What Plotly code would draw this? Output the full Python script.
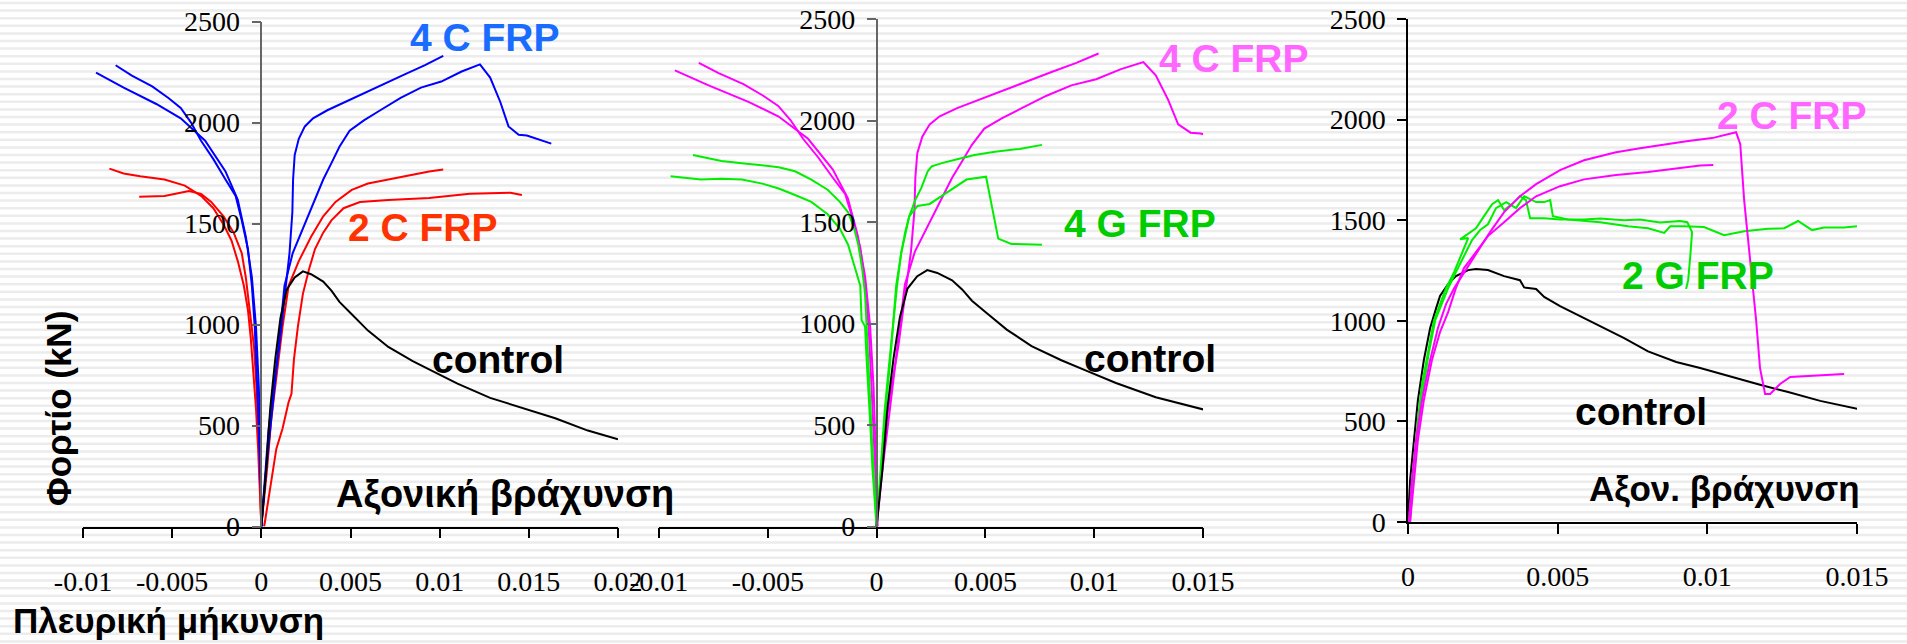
import plotly.graph_objects as go

# ---------------- data ----------------
# 4 layers carbon FRP (panel 1 blue, panel 2 magenta)
c4_lat1_x = [-0.00927, -0.00772, -0.00589, -0.00452, -0.00315, -0.00201, -0.00132, -0.00087, -0.00053, -0.0003, -0.00014, -0.00005, 0]
c4_lat1_y = [2247, 2173, 2092, 2021, 1910, 1758, 1617, 1435, 1233, 990, 687, 384, 0]
c4_lat2_x = [-0.00817, -0.00726, -0.00612, -0.00521, -0.00452, -0.00395, -0.00338, -0.00269, -0.00201, -0.00144, -0.0011, -0.00075, -0.00053, -0.00037, -0.00023, -0.00011, 0.00005]
c4_lat2_y = [2284, 2233, 2179, 2122, 2072, 2001, 1910, 1819, 1718, 1637, 1516, 1374, 1192, 990, 687, 384, 0]
c4_ax1_x = [0, 0.00023, 0.00041, 0.00068, 0.001, 0.0013, 0.00158, 0.00174, 0.00178, 0.00187, 0.0021, 0.00244, 0.0029, 0.0037, 0.00507, 0.00644, 0.00804, 0.00918, 0.0102]
c4_ax1_y = [0, 283, 485, 687, 889, 1132, 1354, 1556, 1718, 1839, 1920, 1981, 2021, 2061, 2118, 2173, 2239, 2284, 2330]
c4_ax2_x = [0, 0.00027, 0.00062, 0.00096, 0.0013, 0.00176, 0.00233, 0.00279, 0.00347, 0.00393, 0.00438, 0.00495, 0.00575, 0.00667, 0.00781, 0.00895, 0.01009, 0.01123, 0.01226, 0.01283, 0.0134, 0.01386, 0.01443, 0.01489, 0.01626]
c4_ax2_y = [0, 283, 586, 889, 1192, 1354, 1475, 1576, 1718, 1799, 1880, 1960, 2011, 2061, 2122, 2173, 2203, 2253, 2288, 2223, 2102, 1981, 1940, 1936, 1896]

# 2 layers carbon FRP (panel 1 red)
c2_lat1_x = [-0.00852, -0.00772, -0.0068, -0.00543, -0.00429, -0.00338, -0.00269, -0.00212, -0.00167, -0.00132, -0.00098, -0.00075, -0.00059, -0.00046, -0.0003, -0.00018, -0.00007, 0]
c2_lat1_y = [1772, 1748, 1734, 1718, 1688, 1637, 1576, 1496, 1415, 1314, 1192, 1071, 930, 788, 586, 384, 182, 0]
c2_lat2_x = [-0.00685, -0.00543, -0.00406, -0.00338, -0.00281, -0.00212, -0.00155, -0.0011, -0.00087, -0.00064, -0.00041, -0.00027, -0.00016, -0.00007, 0]
c2_lat2_y = [1633, 1637, 1661, 1647, 1607, 1536, 1455, 1354, 1233, 1071, 889, 687, 485, 182, 0]
c2_ax1_x = [0, 0.00032, 0.00055, 0.00084, 0.00119, 0.00153, 0.0021, 0.00279, 0.00347, 0.00416, 0.00507, 0.00598, 0.00712, 0.00826, 0.00941, 0.0102]
c2_ax1_y = [0, 283, 525, 748, 990, 1192, 1314, 1435, 1536, 1607, 1667, 1698, 1718, 1738, 1758, 1768]
c2_ax2_x = [0.00016, 0.0005, 0.00084, 0.00119, 0.00153, 0.00169, 0.00183, 0.00205, 0.00233, 0.00267, 0.00301, 0.00347, 0.00393, 0.00461, 0.00553, 0.00712, 0.00941, 0.01169, 0.01397, 0.01461]
c2_ax2_y = [0, 182, 384, 485, 616, 657, 829, 990, 1152, 1273, 1374, 1455, 1516, 1576, 1607, 1617, 1627, 1647, 1653, 1641]

# control (panels 1 and 2)
ctrl_x = [0, 0.00027, 0.0005, 0.00078, 0.00107, 0.00142, 0.00187, 0.00233, 0.00279, 0.00347, 0.00393, 0.00438, 0.00507, 0.00598, 0.00712, 0.00849, 0.00963, 0.011, 0.01283, 0.01466, 0.01648, 0.01831, 0.02]
ctrl_y = [0, 283, 586, 829, 1031, 1172, 1233, 1263, 1249, 1213, 1168, 1112, 1051, 970, 889, 819, 768, 707, 637, 586, 536, 475, 432]

# 4 layers glass FRP (panel 2 green)
g4_lat1_x = [-0.00844, -0.00713, -0.00619, -0.0045, -0.00375, -0.003, -0.00225, -0.00169, -0.00131, -0.00103, -0.00084, -0.00066, -0.00053, -0.00045, -0.00038, -0.00028, -0.00019, -0.00009, 0]
g4_lat1_y = [1830, 1800, 1790, 1770, 1750, 1709, 1659, 1599, 1548, 1468, 1388, 1267, 1146, 985, 784, 583, 382, 181, 0]
g4_lat2_x = [-0.00947, -0.00807, -0.00713, -0.00619, -0.00525, -0.0045, -0.00375, -0.003, -0.00225, -0.00169, -0.00131, -0.00103, -0.00075, -0.00069, -0.00053, -0.00047, -0.00038, -0.00028, -0.00019, 0]
g4_lat2_y = [1725, 1709, 1713, 1709, 1689, 1665, 1633, 1599, 1538, 1468, 1388, 1287, 1186, 1016, 985, 845, 684, 483, 282, 0]
g4_ax1_x = [0, 0.00019, 0.00038, 0.00056, 0.00075, 0.00094, 0.00113, 0.00131, 0.0015, 0.00178, 0.00206, 0.00235, 0.00253, 0.003, 0.00375, 0.0045, 0.00544, 0.00657, 0.0076]
g4_ax1_y = [0, 282, 583, 784, 985, 1186, 1347, 1448, 1528, 1609, 1669, 1750, 1774, 1790, 1810, 1830, 1846, 1860, 1880]
g4_ax2_x = [0, 0.00023, 0.00041, 0.0006, 0.00075, 0.0009, 0.00113, 0.0015, 0.00188, 0.00244, 0.003, 0.00356, 0.00413, 0.00503, 0.00525, 0.00544, 0.00559, 0.00619, 0.0076]
g4_ax2_y = [0, 282, 583, 784, 985, 1186, 1347, 1528, 1579, 1589, 1629, 1669, 1709, 1723, 1609, 1508, 1418, 1392, 1388]

# panel 3 (axial only)
ctrl3_x = [0, 0.00007, 0.0002, 0.00033, 0.00053, 0.00074, 0.00094, 0.00107, 0.00134, 0.0016, 0.00201, 0.00227, 0.00267, 0.00321, 0.00374, 0.00388, 0.00428, 0.00455, 0.00508, 0.00575, 0.00642, 0.00722, 0.00802, 0.00896, 0.00976, 0.0107, 0.01176, 0.0127, 0.01377, 0.01504]
ctrl3_y = [0, 209, 407, 606, 805, 964, 1063, 1123, 1182, 1222, 1252, 1258, 1252, 1222, 1202, 1166, 1158, 1119, 1073, 1023, 974, 914, 848, 795, 765, 725, 682, 646, 602, 562]
c2b_ax1_x = [0.00003, 0.00013, 0.00027, 0.00047, 0.00074, 0.001, 0.00127, 0.00154, 0.0018, 0.00214, 0.00241, 0.00274, 0.00321, 0.00374, 0.00428, 0.00508, 0.00588, 0.00695, 0.00775, 0.00856, 0.00936, 0.01016, 0.0107, 0.01096, 0.0111, 0.01123, 0.01143, 0.01163, 0.01176, 0.01193, 0.0121, 0.01243, 0.01277, 0.01364, 0.01457]
c2b_ax1_y = [0, 209, 407, 606, 805, 964, 1083, 1162, 1222, 1301, 1361, 1441, 1540, 1619, 1679, 1749, 1798, 1838, 1858, 1878, 1894, 1908, 1927, 1937, 1878, 1600, 1301, 1003, 765, 636, 636, 686, 721, 729, 735]
c2b_ax2_x = [0.00007, 0.0002, 0.00033, 0.00053, 0.0008, 0.00107, 0.00134, 0.0016, 0.00187, 0.00227, 0.00267, 0.00321, 0.00374, 0.00428, 0.00508, 0.00588, 0.00695, 0.00802, 0.00909, 0.00976, 0.0102]
c2b_ax2_y = [0, 209, 407, 606, 805, 944, 1043, 1162, 1262, 1341, 1421, 1490, 1560, 1619, 1669, 1703, 1725, 1739, 1758, 1772, 1774]
g2_ax1_x = [0.00003, 0.00011, 0.0002, 0.00033, 0.00047, 0.00067, 0.00087, 0.00107, 0.00127, 0.00154, 0.0018, 0.00201, 0.00174, 0.00227, 0.00254, 0.00281, 0.00301, 0.00321, 0.00348, 0.00374, 0.00394, 0.00408, 0.00455, 0.00508, 0.00588, 0.00642, 0.00722, 0.00775, 0.00842, 0.00909, 0.00933, 0.00949, 0.00943, 0.00936, 0.00929]
g2_ax1_y = [0, 129, 308, 507, 686, 845, 1003, 1083, 1162, 1242, 1341, 1411, 1405, 1460, 1520, 1580, 1600, 1550, 1580, 1619, 1600, 1510, 1510, 1504, 1504, 1508, 1500, 1504, 1488, 1496, 1490, 1441, 1321, 1202, 1158]
g2_ax2_x = [0.00007, 0.00013, 0.00024, 0.00037, 0.00053, 0.0007, 0.00091, 0.00114, 0.00134, 0.0016, 0.00187, 0.00214, 0.00241, 0.00267, 0.00294, 0.00328, 0.00361, 0.00388, 0.00428, 0.00455, 0.00475, 0.00484, 0.00535, 0.00642, 0.00735, 0.00802, 0.00856, 0.00876, 0.00922, 0.00989, 0.01056, 0.01123, 0.01203, 0.01257, 0.01303, 0.0135, 0.0139, 0.01457, 0.01504]
g2_ax2_y = [0, 149, 308, 507, 686, 845, 1003, 1083, 1162, 1242, 1321, 1401, 1451, 1480, 1560, 1590, 1560, 1619, 1590, 1590, 1600, 1520, 1504, 1490, 1470, 1460, 1437, 1470, 1470, 1466, 1425, 1445, 1457, 1460, 1496, 1451, 1464, 1464, 1470]

# tick labels
x1_ticks = [-0.01, -0.005, 0, 0.005, 0.01, 0.015, 0.02]
x1_text = ["-0.01", "-0.005", "0", "0.005", "0.01", "0.015", "0.02"]
x2_ticks = [-0.01, -0.005, 0, 0.005, 0.01, 0.015]
x2_text = ["-0.01", "-0.005", "0", "0.005", "0.01", "0.015"]
x3_ticks = [0, 0.005, 0.01, 0.015]
x3_text = ["0", "0.005", "0.01", "0.015"]
y_ticks = [0, 500, 1000, 1500, 2000, 2500]
y_text = ["0", "500", "1000", "1500", "2000", "2500"]

# ---------------- styling ----------------
W, H = 1907, 644
BLUE, RED, MAG, GRN, BLK = "#0000ff", "#ff0000", "#ff00ff", "#00ee00", "#000000"
SANS = "Liberation Sans Narrow, Liberation Sans, Arial, sans-serif"
SERIF = "Liberation Serif, Times New Roman, serif"

fig = go.Figure()

def add(x, y, color, ax):
    fig.add_trace(go.Scatter(x=x, y=y, mode="lines", line=dict(color=color, width=2),
                             xaxis="x" + ax, yaxis="y" + ax, showlegend=False, hoverinfo="skip"))

# panel 1
for xs, ys in [(c2_lat1_x, c2_lat1_y), (c2_lat2_x, c2_lat2_y), (c2_ax1_x, c2_ax1_y), (c2_ax2_x, c2_ax2_y)]:
    add(xs, ys, RED, "")
for xs, ys in [(c4_lat1_x, c4_lat1_y), (c4_lat2_x, c4_lat2_y), (c4_ax1_x, c4_ax1_y), (c4_ax2_x, c4_ax2_y)]:
    add(xs, ys, BLUE, "")
add(ctrl_x, ctrl_y, BLK, "")
# panel 2
for xs, ys in [(c4_lat1_x, c4_lat1_y), (c4_lat2_x, c4_lat2_y), (c4_ax1_x, c4_ax1_y), (c4_ax2_x, c4_ax2_y)]:
    add(xs, ys, MAG, "2")
for xs, ys in [(g4_lat1_x, g4_lat1_y), (g4_lat2_x, g4_lat2_y), (g4_ax1_x, g4_ax1_y), (g4_ax2_x, g4_ax2_y)]:
    add(xs, ys, GRN, "2")
add(ctrl_x, ctrl_y, BLK, "2")
# panel 3
add(ctrl3_x, ctrl3_y, BLK, "3")
for xs, ys in [(g2_ax1_x, g2_ax1_y), (g2_ax2_x, g2_ax2_y)]:
    add(xs, ys, GRN, "3")
for xs, ys in [(c2b_ax1_x, c2b_ax1_y), (c2b_ax2_x, c2b_ax2_y)]:
    add(xs, ys, MAG, "3")

def xa(dom, rng, tv, tt):
    return dict(domain=[dom[0] / W, dom[1] / W], range=rng, tickvals=tv, ticktext=tt,
                showline=True, linecolor="black", linewidth=1.5, ticks="outside", ticklen=10,
                tickcolor="black", tickwidth=1.5, showgrid=False, zeroline=False,
                tickfont=dict(family=SERIF, size=28, color="black"), ticklabelstandoff=19,
                fixedrange=True, automargin=False)

def ya(dom, pos, anchor, lc):
    d = dict(domain=[1 - dom[0] / H, 1 - dom[1] / H], range=[0, 2500], tickvals=y_ticks, ticktext=y_text,
             showline=True, linecolor=lc, linewidth=1.5, ticks="outside", ticklen=9,
             tickcolor=lc, tickwidth=1.5, showgrid=False, zeroline=False,
             tickfont=dict(family=SERIF, size=28, color="black"), ticklabelstandoff=6,
             fixedrange=True, automargin=False)
    if pos is None:
        d["anchor"] = anchor
    else:
        d["anchor"] = "free"
        d["position"] = pos
    return d

x1 = xa((83, 618), [-0.01, 0.02], x1_ticks, x1_text)
x2 = xa((659, 1203), [-0.01, 0.015], x2_ticks, x2_text)
x3 = xa((1408, 1857), [0, 0.015], x3_ticks, x3_text)

def zero_pos(xd):
    r0, r1 = xd["range"]
    d0, d1 = xd["domain"]
    return d0 + (0 - r0) / (r1 - r0) * (d1 - d0)

y1 = ya((526.5, 21.6), zero_pos(x1), None, "#666666")
y2 = ya((526.5, 19), zero_pos(x2), None, "#666666")
y3 = ya((522, 19), None, "x3", "black")
x1["anchor"] = "y"; x2["anchor"] = "y2"; x3["anchor"] = "y3"

# faint horizontal background stripes
path = ""
yy = 3.0
while yy < H:
    path += f"M0,{1 - yy / H:.5f} L1,{1 - yy / H:.5f} "
    yy += 7.6

def ann(text, cx, cy, color, size, angle=0):
    return dict(text=f"<b>{text}</b>", x=cx / W, y=1 - cy / H, xref="paper", yref="paper",
                xanchor="center", yanchor="middle", showarrow=False, textangle=angle,
                font=dict(family=SANS, size=size, color=color))

annotations = [
    ann("4 C FRP", 485, 38, "#1a6cff", 39),
    ann("2 C FRP", 423, 227, "#ff3300", 39),
    ann("control", 498, 360, "black", 39),
    ann("Αξονική βράχυνση", 505, 494, "black", 38),
    ann("Πλευρική μήκυνση", 168, 620, "black", 35),
    ann("Φορτίο (kN)", 59, 409, "black", 35, -90),
    ann("4 C FRP", 1234, 58, "#ff66ff", 39),
    ann("4 G FRP", 1140, 223, "#00cc00", 39),
    ann("control", 1150, 358, "black", 39),
    ann("2 C FRP", 1792, 115, "#ff66ff", 39),
    ann("2 G FRP", 1698, 275, "#00cc00", 39),
    ann("control", 1641, 411, "black", 39),
    ann("Αξον. βράχυνση", 1724, 488, "black", 35),
]

fig.update_layout(
    width=W, height=H, margin=dict(l=0, r=0, t=0, b=0, pad=0, autoexpand=False),
    paper_bgcolor="white", plot_bgcolor="rgba(0,0,0,0)",
    xaxis=x1, xaxis2=x2, xaxis3=x3, yaxis=y1, yaxis2=y2, yaxis3=y3,
    annotations=annotations,
    shapes=[dict(type="path", path=path, xref="paper", yref="paper", layer="below",
                 line=dict(color="#ececec", width=2.5))],
    showlegend=False,
)

fig.write_html("out.html", config={"displayModeBar": False})
